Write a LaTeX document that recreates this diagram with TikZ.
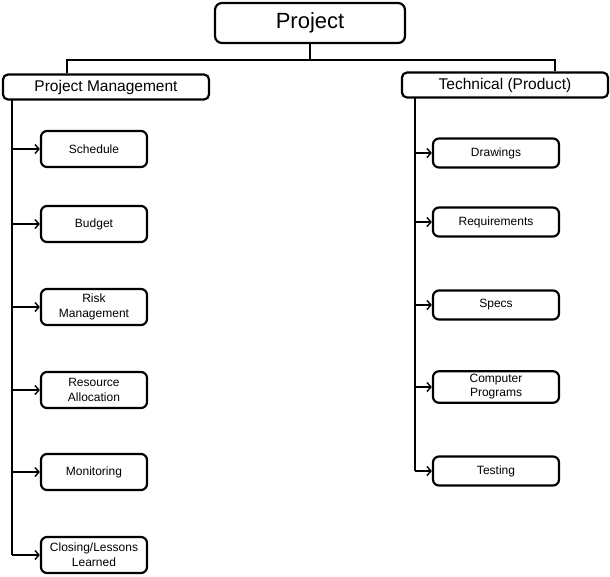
\documentclass[tikz,border=0pt]{standalone}
\usepackage{fontspec}
\setmainfont{Liberation Sans}
\usepackage{tikz}
\usetikzlibrary{arrows.meta}

\begin{document}
\begin{tikzpicture}[x=1pt,y=-1pt,
    topbox/.style={draw,line width=2.2pt,rounded corners=7pt,minimum width=190pt,minimum height=40pt,font=\fontsize{22}{26}\selectfont},
    headbox/.style={draw,line width=2.2pt,rounded corners=5pt,minimum width=206pt,minimum height=25pt,font=\fontsize{15.5}{18}\selectfont},
    pmbox/.style={draw,line width=2.2pt,rounded corners=6pt,minimum width=106pt,minimum height=36pt,align=center,font=\fontsize{12}{15}\selectfont},
    techbox/.style={draw,line width=2.2pt,rounded corners=6pt,minimum width=126pt,minimum height=29pt,align=center,font=\fontsize{12}{14}\selectfont},
    link/.style={line width=1.1pt},
    arr/.style={link,-{Straight Barb[length=4pt,width=9pt,line width=1.4pt]}}]
  \useasboundingbox (0,0) rectangle (610,576);

  \node[topbox] (proj) at (310,23) {Project};
  \node[headbox] (pm) at (106,87) {Project Management};
  \node[headbox] (tech) at (505,85) {Technical (Product)};

  \node[pmbox] (sched) at (94,149) {Schedule};
  \node[pmbox] (budget) at (94,224) {Budget};
  \node[pmbox] (risk) at (94,307) {Risk\\Management};
  \node[pmbox] (resource) at (94,390) {Resource\\Allocation};
  \node[pmbox] (monitor) at (94,472) {Monitoring};
  \node[pmbox] (closing) at (94,555) {Closing/Lessons\\Learned};

  \node[techbox] (drawings) at (496,153) {Drawings};
  \node[techbox] (reqs) at (496,222) {Requirements};
  \node[techbox] (specs) at (496,305) {Specs};
  \node[techbox] (programs) at (496,387) {Computer\\Programs};
  \node[techbox] (testing) at (496,471) {Testing};

  % top level
  \coordinate (pmtop) at (67,60);
  \coordinate (techtop) at (555,60);
  \draw[link] (proj.south) -- (proj.south |- pmtop);
  \draw[link] (pm.north -| pmtop) -- (pmtop) -- (techtop) -- (tech.north -| techtop);

  % project management branch
  \coordinate (pmleft) at (12,100);
  \draw[link] (pmleft) -- (pmleft |- closing.west);
  \foreach \n in {sched,budget,risk,resource,monitor,closing} {
    \draw[arr] (pmleft |- \n.west) -- (\n.west);
  }

  % technical branch
  \coordinate (techleft) at (415,98);
  \draw[link] (techleft) -- (techleft |- testing.west);
  \foreach \n in {drawings,reqs,specs,programs,testing} {
    \draw[arr] (techleft |- \n.west) -- (\n.west);
  }
\end{tikzpicture}
\end{document}
